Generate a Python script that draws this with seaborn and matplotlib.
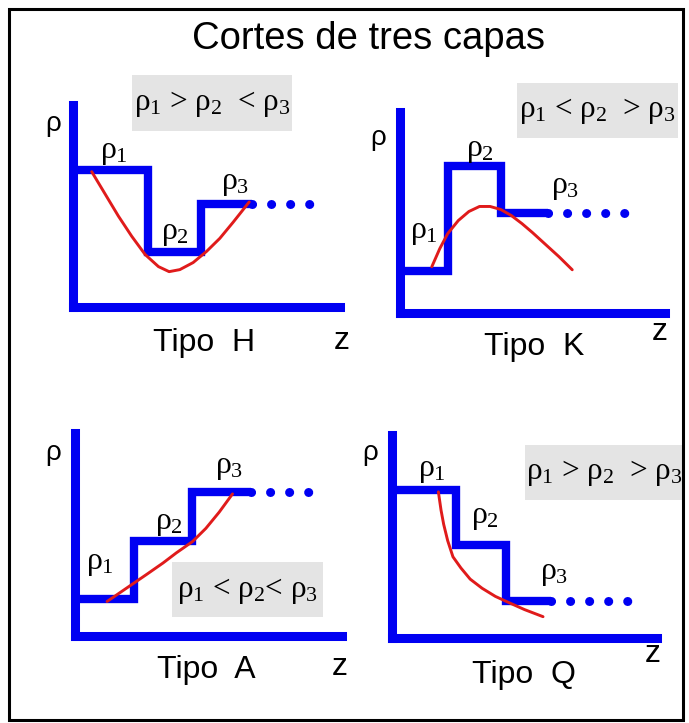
import matplotlib
matplotlib.use("Agg")
import matplotlib.pyplot as plt
from matplotlib.patches import Rectangle
import seaborn as sns

# ---- layer models (depth z, resistivity rho) for each three-layer type ----
TYPES = ["H", "K", "A", "Q"]

# step profile: start, two interfaces, end of solid third layer
H_STEP_Z = [0, 2.8, 4.8, 6.7]
H_STEP_RHO = [6.8, 2.7, 5.1, 5.1]
K_STEP_Z = [0, 1.8, 3.8, 5.6]
K_STEP_RHO = [2.1, 7.3, 5.0, 5.0]
A_STEP_Z = [0, 2.2, 4.4, 6.6]
A_STEP_RHO = [1.8, 4.7, 7.1, 7.1]
Q_STEP_Z = [0, 2.4, 4.3, 6.0]
Q_STEP_RHO = [7.3, 4.6, 1.8, 1.8]

# half-space continuation (dotted) ends here
TAIL_END = [9.1, 8.5, 9.4, 9.2]

# apparent resistivity curves
H_CURVE_Z = [0.7, 1.2, 1.7, 2.2, 2.7, 3.2, 3.6, 4.0, 4.5, 5.0, 5.5, 6.0, 6.6]
H_CURVE_RHO = [6.7, 5.6, 4.5, 3.5, 2.6, 2.0, 1.75, 1.85, 2.2, 2.75, 3.4, 4.2, 5.2]
K_CURVE_Z = [1.2, 1.5, 1.8, 2.2, 2.6, 3.0, 3.4, 3.8, 4.2, 4.6, 5.0, 5.5, 6.0, 6.5]
K_CURVE_RHO = [2.3, 3.2, 3.95, 4.6, 5.05, 5.3, 5.3, 5.15, 4.85, 4.45, 4.0, 3.4, 2.8, 2.15]
A_CURVE_Z = [1.2, 1.7, 2.2, 2.7, 3.3, 3.8, 4.4, 4.9, 5.4, 5.9]
A_CURVE_RHO = [1.7, 2.15, 2.6, 3.05, 3.6, 4.1, 4.65, 5.3, 6.1, 7.0]
Q_CURVE_Z = [1.75, 1.85, 1.95, 2.1, 2.3, 2.6, 2.95, 3.4, 3.9, 4.4, 5.0, 5.7]
Q_CURVE_RHO = [7.2, 6.3, 5.6, 4.8, 4.0, 3.45, 2.9, 2.45, 2.05, 1.75, 1.4, 1.05]

RELATIONS = [
    r"$\rho_1$ > $\rho_2$  < $\rho_3$",
    r"$\rho_1$ < $\rho_2$  > $\rho_3$",
    r"$\rho_1$ < $\rho_2$< $\rho_3$",
    r"$\rho_1$ > $\rho_2$  > $\rho_3$",
]
TITLE = "Cortes de tres capas"

STEPS = [(H_STEP_Z, H_STEP_RHO), (K_STEP_Z, K_STEP_RHO),
         (A_STEP_Z, A_STEP_RHO), (Q_STEP_Z, Q_STEP_RHO)]
CURVES = [(H_CURVE_Z, H_CURVE_RHO), (K_CURVE_Z, K_CURVE_RHO),
          (A_CURVE_Z, A_CURVE_RHO), (Q_CURVE_Z, Q_CURVE_RHO)]

# ---- layout (pixels on a 689 x 723 canvas) ----
W, H = 689, 723
AX_BOX = [(73, 340, 307, 105), (400, 665, 313, 112),
          (75, 342, 636, 433), (392, 657, 638, 435)]      # x0, x1, y_bottom, y_top
REL_BOX = [(132, 292, 75, 131), (517, 678, 83, 138),
           (172, 323, 562, 617), (525, 683, 445, 500)]    # x0, x1, y0, y1
RHO_AXIS_POS = [(53, 124), (378, 138), (53, 453), (370, 453)]
LAYER_LABEL_POS = [
    [(114, 152), (175, 233), (235, 183)],
    [(424, 232), (480, 150), (565, 187)],
    [(100, 563), (169, 523), (229, 467)],
    [(432, 470), (485, 517), (554, 573)],
]
TIPO_POS = [(204, 343), (534, 347), (206, 670), (524, 675)]
Z_POS = [(342, 341), (660, 332), (340, 667), (653, 654)]

BLUE = "#0000f2"
RED = "#e01b1b"
BOX_GRAY = "#e4e4e4"

sns.set_theme(style="white")
plt.rcParams["font.family"] = ["Liberation Sans", "DejaVu Sans"]
plt.rcParams["text.color"] = "black"
plt.rcParams["mathtext.fontset"] = "custom"
plt.rcParams["mathtext.rm"] = "Liberation Serif"
plt.rcParams["mathtext.it"] = "Liberation Serif"
plt.rcParams["mathtext.bf"] = "Liberation Serif:bold"


def fx(x):
    return x / W


def fy(y):
    return 1 - y / H


fig = plt.figure(figsize=(W / 100, H / 100), dpi=100)
fig.patch.set_facecolor("white")

# outer frame
fig.add_artist(Rectangle((fx(9), fy(720)), (683 - 9) / W, (720 - 9) / H,
                         transform=fig.transFigure, fill=False,
                         edgecolor="black", linewidth=2.2, zorder=5))

fig.text(fx(368), fy(39), TITLE, ha="center", va="center",
         fontsize=27.5, color="black")

for i, t in enumerate(TYPES):
    x0, x1, yb, yt = AX_BOX[i]
    ax = fig.add_axes([fx(x0), fy(yb), (x1 - x0) / W, (yb - yt) / H])
    ax.patch.set_visible(False)
    ax.set_xlim(0, 10)
    ax.set_ylim(0, 10)
    ax.set_xticks([])
    ax.set_yticks([])
    for side in ("top", "right"):
        ax.spines[side].set_visible(False)
    for side in ("left", "bottom"):
        sp = ax.spines[side]
        sp.set_color(BLUE)
        sp.set_linewidth(6.5)
        sp.set_capstyle("projecting")

    sz, srho = STEPS[i]
    sns.lineplot(x=sz, y=srho, ax=ax, color=BLUE, linewidth=6,
                 drawstyle="steps-post", sort=False, estimator=None,
                 solid_joinstyle="miter", solid_capstyle="butt",
                 clip_on=False)
    # dotted continuation of the last layer
    sns.lineplot(x=[sz[-1], TAIL_END[i]], y=[srho[-1], srho[-1]], ax=ax,
                 color=BLUE, linewidth=6.5, linestyle=(0, (0.01, 2.1)),
                 dash_capstyle="round", sort=False, estimator=None,
                 clip_on=False)

    cz, crho = CURVES[i]
    sns.lineplot(x=cz, y=crho, ax=ax, color=RED, linewidth=2.1,
                 sort=False, estimator=None, clip_on=False, zorder=3)

    # relation box
    bx0, bx1, by0, by1 = REL_BOX[i]
    fig.add_artist(Rectangle((fx(bx0), fy(by1)), (bx1 - bx0) / W,
                             (by1 - by0) / H, transform=fig.transFigure,
                             facecolor=BOX_GRAY, edgecolor="none", zorder=-1))
    fig.text(fx((bx0 + bx1) / 2), fy((by0 + by1) / 2 + 1), RELATIONS[i],
             ha="center", va="center", fontsize=22.5,
             family="Liberation Serif", color="black")

    # axis letters and layer labels
    fig.text(fx(RHO_AXIS_POS[i][0]), fy(RHO_AXIS_POS[i][1]), "ρ",
             ha="center", va="center", fontsize=20)
    for k, (lx, ly) in enumerate(LAYER_LABEL_POS[i]):
        fig.text(fx(lx), fy(ly), r"$\rho_%d$" % (k + 1), ha="center",
                 va="center", fontsize=23)
    fig.text(fx(TIPO_POS[i][0]), fy(TIPO_POS[i][1]), "Tipo  " + t,
             ha="center", va="center", fontsize=23)
    fig.text(fx(Z_POS[i][0]), fy(Z_POS[i][1]), "z",
             ha="center", va="center", fontsize=23)

fig.savefig("out.png", dpi=100)
